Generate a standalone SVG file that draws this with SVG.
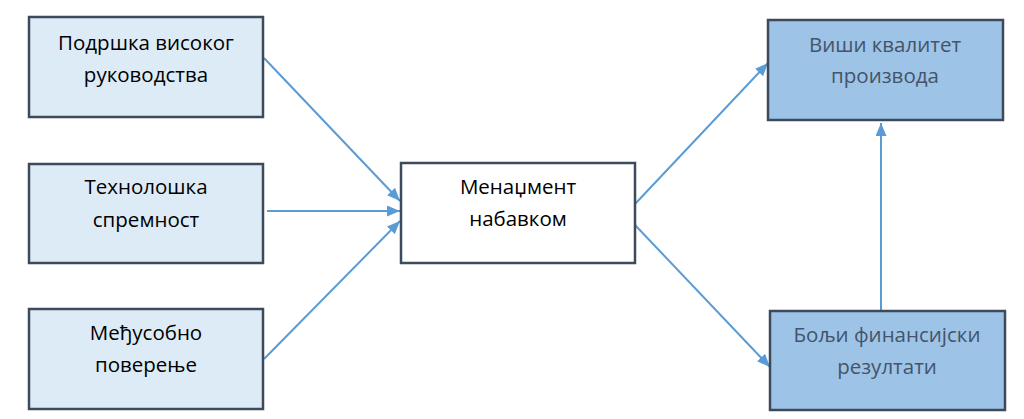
<svg xmlns="http://www.w3.org/2000/svg" width="1024" height="419" viewBox="0 0 1024 419">
<style>
.bl{fill:#ddebf7;stroke:#3c4a5c;stroke-width:2.5}
.bw{fill:#ffffff;stroke:#3c4a5c;stroke-width:2.5}
.bd{fill:#9dc3e6;stroke:#3c4a5c;stroke-width:2.5}
text{font-family:"Open Sans","Liberation Sans",sans-serif;font-size:20.5px;text-anchor:middle}
.tk{fill:#000000}
.tg{fill:#44546a}
.c{stroke:#5b9bd5;stroke-width:2;fill:none;marker-end:url(#ah)}
</style>
<defs>
<marker id="ah" viewBox="0 0 13 11" refX="13" refY="5.5" markerWidth="13" markerHeight="11" markerUnits="userSpaceOnUse" orient="auto">
<path d="M0,0 L13,5.5 L0,11 Z" fill="#5b9bd5"/>
</marker>
</defs>
<rect width="1024" height="419" fill="#ffffff"/>
<g id="connectors">
<line class="c" x1="264" y1="58" x2="400" y2="201"/>
<line class="c" x1="267" y1="211" x2="400" y2="211"/>
<line class="c" x1="264" y1="359" x2="400" y2="221"/>
<line class="c" x1="635" y1="204" x2="768" y2="63"/>
<line class="c" x1="635" y1="225" x2="770" y2="367"/>
<line class="c" x1="881" y1="311" x2="881" y2="123"/>
</g>
<g id="n1"><rect class="bl" x="29" y="17" width="234" height="100"/>
<text class="tk" x="146" y="50">Подршка високог</text><text class="tk" x="146" y="82">руководства</text></g>
<g id="n2"><rect class="bl" x="29" y="164" width="234" height="99"/>
<text class="tk" x="146" y="194">Технолошка</text><text class="tk" x="146" y="227">спремност</text></g>
<g id="n3"><rect class="bl" x="29" y="309" width="234" height="100"/>
<text class="tk" x="146" y="340">Међусобно</text><text class="tk" x="146" y="372">поверење</text></g>
<g id="n4"><rect class="bw" x="401" y="163" width="234" height="100"/>
<text class="tk" x="518" y="194">Менаџмент</text><text class="tk" x="518" y="226">набавком</text></g>
<g id="n5"><rect class="bd" x="768" y="20" width="235" height="100"/>
<text class="tg" x="885" y="52">Виши квалитет</text><text class="tg" x="885" y="83">производа</text></g>
<g id="n6"><rect class="bd" x="770" y="311" width="235" height="99"/>
<text class="tg" x="887" y="342">Бољи финансијски</text><text class="tg" x="887" y="374">резултати</text></g>
</svg>
